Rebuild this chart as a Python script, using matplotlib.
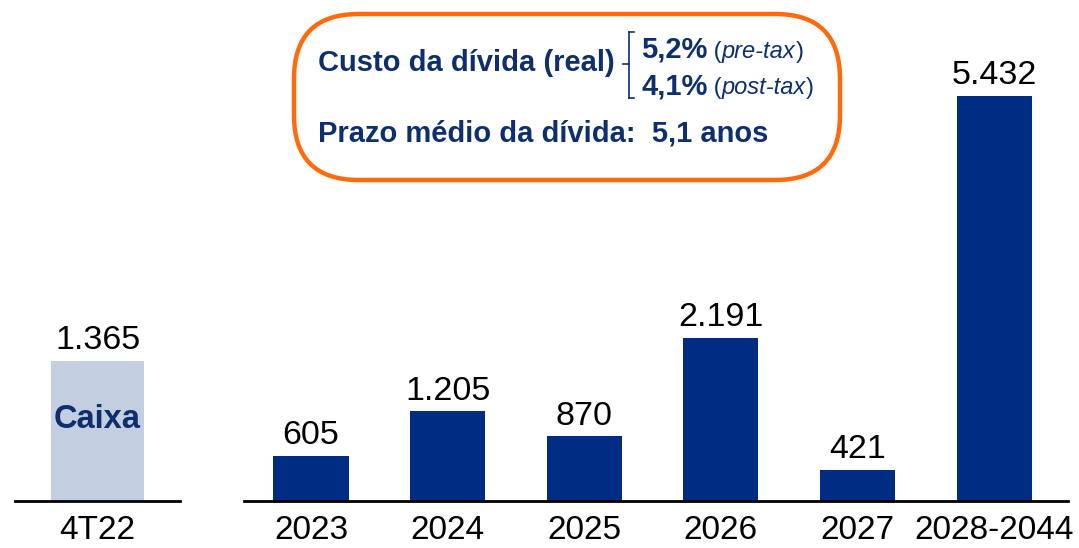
import matplotlib
matplotlib.use("Agg")
import matplotlib.pyplot as plt
from matplotlib.patches import FancyBboxPatch
from matplotlib.lines import Line2D
from matplotlib.text import Annotation

plt.rcParams['font.family'] = ['Liberation Sans', 'DejaVu Sans']

cash_label = ["4T22"]
cash_value = [1365]
years = ["2023", "2024", "2025", "2026", "2027", "2028-2044"]
amortization = [605, 1205, 870, 2191, 421, 5432]

def fmt(v):
    return f"{v:,}".replace(",", ".")

W, H = 1079, 548
fig = plt.figure(figsize=(W / 100, H / 100), dpi=100)

def fx(x):
    return x / W

def fy(y):
    return 1 - y / H

base = 501
dark = "#002D83"
light = "#C3CEE0"
txtblue = "#0D2F6E"
vfs = 24.5
tfs = 24

# Left panel (cash)
axL = fig.add_axes([fx(15), fy(base), fx(180 - 15), base / H])
axL.bar([0], cash_value, width=0.56, color=light)
axL.set_xlim(-0.5, 0.5)
axL.set_ylim(0, base / 0.1026)
for x, v in zip([0], cash_value):
    axL.text(x, v + 45, fmt(v), ha="center", va="bottom", fontsize=vfs, color="black")
axL.text(0, cash_value[0] * 0.58, "Caixa", ha="center", va="center", fontsize=23.5,
         fontweight="bold", color=txtblue)
axL.set_xticks([0])
axL.set_xticklabels(cash_label, fontsize=tfs)

# Right panel (amortization)
axR = fig.add_axes([fx(244), fy(base), fx(1068 - 244), base / H])
xs = list(range(len(years)))
axR.bar(xs, amortization, width=0.55, color=dark)
axR.set_xlim(-0.49, 5.54)
axR.set_ylim(0, base / 0.0746)
for x, v in zip(xs, amortization):
    axR.text(x, v + 60, fmt(v), ha="center", va="bottom", fontsize=vfs, color="black")
axR.set_xticks(xs)
axR.set_xticklabels(years, fontsize=tfs)

for ax in (axL, axR):
    for s in ("top", "right", "left"):
        ax.spines[s].set_visible(False)
    ax.spines["bottom"].set_linewidth(2)
    ax.spines["bottom"].set_color("black")
    ax.set_yticks([])
    ax.tick_params(axis="x", length=0, pad=10)
    ax.patch.set_alpha(0)

# Orange info box
box = FancyBboxPatch((fx(294), fy(180)), fx(840 - 294), (180 - 14) / H,
                     boxstyle="round,pad=0,rounding_size=0.06",
                     transform=fig.transFigure, facecolor="white",
                     edgecolor="#FF6A0D", linewidth=3.2, mutation_aspect=W / H)
fig.patches.append(box)

bfs = 21
ifs = 17
fig.text(fx(318), fy(63), "Custo da dívida (real)", fontsize=bfs, fontweight="bold",
         color=txtblue, ha="left", va="center")
# bracket
bx = 629
for seg in [((bx, 32), (bx, 98)), ((bx, 32), (bx + 5, 32)), ((bx, 98), (bx + 5, 98)),
            ((bx - 6, 64), (bx, 64))]:
    (x0, y0), (x1, y1) = seg
    fig.add_artist(Line2D([fx(x0), fx(x1)], [fy(y0), fy(y1)], color=txtblue, lw=1.2,
                          transform=fig.transFigure))


def pct_line(y, pct, note):
    t1 = fig.text(fx(641), fy(y), pct, fontsize=bfs, fontweight="bold", color=txtblue,
                  ha="left", va="baseline")
    a2 = fig.add_artist(Annotation(" (", xy=(1, 0), xycoords=t1,
                        xytext=(0, 1), textcoords="offset points", fontsize=ifs,
                        color=txtblue, ha="left", va="bottom"))
    a3 = fig.add_artist(Annotation(note, xy=(1, 0), xycoords=a2,
                        fontsize=ifs, style="italic", color=txtblue, ha="left", va="bottom"))
    fig.add_artist(Annotation(")", xy=(1, 0), xycoords=a3,
                   fontsize=ifs, color=txtblue, ha="left", va="bottom"))


pct_line(58, "5,2%", "pre-tax")
pct_line(94, "4,1%", "post-tax")

fig.text(fx(318), fy(133), "Prazo médio da dívida:  5,1 anos", fontsize=bfs,
         fontweight="bold", color=txtblue, ha="left", va="center")

fig.savefig("out.png", dpi=100, facecolor="white")
